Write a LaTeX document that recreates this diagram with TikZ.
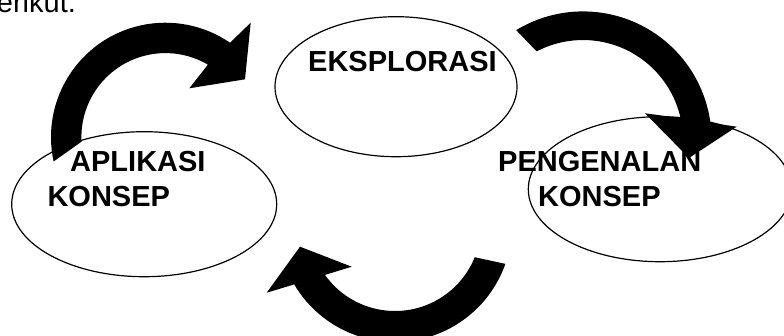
\documentclass[tikz,border=0pt]{standalone}
\usepackage{fontspec}
\setmainfont{Liberation Sans}
\usetikzlibrary{shapes.geometric,calc}
\begin{document}
\begin{tikzpicture}[x=1pt,y=-1pt,
  bubble/.style={draw=black, line width=1.2pt, ellipse, inner sep=0pt, outer sep=0pt},
  ttl/.style={anchor=base west, inner sep=0pt, font=\fontsize{29}{35}\selectfont\bfseries},
  bodytext/.style={anchor=base west, inner sep=0pt, font=\fontsize{29}{35}\selectfont},
  bigarrow/.style={fill=black, draw=none}]
\useasboundingbox (0,0) rectangle (784,335);
\clip (0,0) rectangle (784,335);
\node[bodytext] (intro) at (-19.4,12.5) {berikut.};
% ellipses
\node[bubble, minimum width=242pt, minimum height=140pt] (eks) at (396,86.7) {};
\node[bubble, minimum width=263.4pt, minimum height=145pt] (pen) at (660,189.2) {};
\node[bubble, minimum width=265pt, minimum height=145pt] (apl) at (144.2,204.2) {};
% curved arrows
\coordinate (cL) at (165.4,137.1);
\coordinate (cR) at (583,140);
\coordinate (cB) at (395,225);
\path[bigarrow] ($(cL)+(167.7:114.4)$) arc[start angle=167.7, end angle=304.4, radius=114.4]
  -- (250.7,22.7) -- (245,79.3) -- (189.3,88.3)
  -- ($(cL)+(300.4:84)$) arc[start angle=300.4, end angle=176.9, radius=84] -- cycle;
\path[bigarrow] ($(cR)+(238.7:128.6)$) arc[start angle=238.7, end angle=352.3, radius=128.6]
  -- (736.7,126.7) -- (689,158) -- (645,113.3)
  -- ($(cR)+(347.3:100)$) arc[start angle=347.3, end angle=242.4, radius=100] -- cycle;
\path[bigarrow] ($(cB)+(19.4:117)$) arc[start angle=19.4, end angle=149.5, radius=117]
  -- (266.7,292.7) -- (300,246.7) -- (351.7,266.7)
  -- ($(cB)+(144.5:86)$) arc[start angle=144.5, end angle=22, radius=86] -- cycle;
% texts
\node[ttl] (t1) at (308,71.7) {EKSPLORASI};
\node[ttl] (t2) at (70,171.7) {APLIKASI};
\node[ttl] (t3) at (47.3,206.7) {KONSEP};
\node[ttl] (t4) at (498,171.7) {PENGENALAN};
\node[ttl] (t5) at (538,206.7) {KONSEP};
\end{tikzpicture}
\end{document}
